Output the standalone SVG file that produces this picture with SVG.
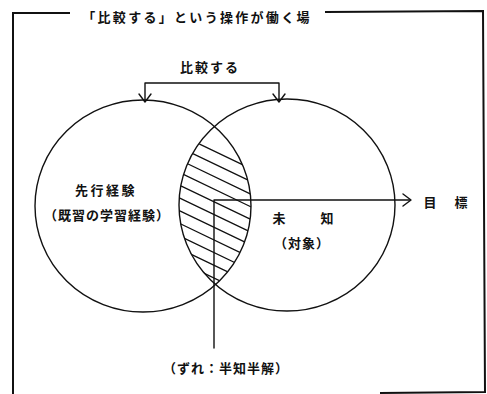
<svg xmlns="http://www.w3.org/2000/svg" width="487" height="394" viewBox="0 0 487 394">
<style>
.ln{fill:none;stroke:#111;stroke-width:1.4;stroke-linecap:round;stroke-linejoin:round}
.fr{fill:none;stroke:#111;stroke-width:2}
.ht{stroke:#111;stroke-width:1.3}
.t{font-family:"Noto Sans CJK JP","Noto Sans",sans-serif;font-weight:bold;font-size:13px;fill:#111;text-anchor:middle}
</style>
<defs>
<clipPath id="lens"><path d="M215,127 A108,106 0 0 1 215,285 A108,106 0 0 1 215,127 Z"/></clipPath>
</defs>
<rect width="487" height="394" fill="#fff"/>
<g id="frame">
<path class="fr" d="M70,13 L13,13 L13,394"/>
<path class="fr" d="M325,12 L483,11 L485,392 L380,393"/>
<text class="t" x="197" y="22" style="font-size:13px;letter-spacing:2.3px">「比較する」という操作が働く場</text>
</g>
<g id="left-circle">
<ellipse class="ln" cx="143" cy="206" rx="108" ry="106"/>
<text class="t" x="106" y="195" style="letter-spacing:2.5px">先行経験</text>
<text class="t" x="107" y="220" style="letter-spacing:1px">（既習の学習経験）</text>
</g>
<g id="right-circle">
<ellipse class="ln" cx="287" cy="205" rx="108" ry="106"/>
<text class="t" x="303" y="223"><tspan x="279">未</tspan><tspan x="327">知</tspan></text>
<text class="t" x="302" y="248" style="letter-spacing:1px">（対象）</text>
</g>
<g id="overlap">
<g clip-path="url(#lens)">
<path class="ht" d="M170,129.9 L260,173.1 M170,142.6 L260,185.8 M170,155.3 L260,198.5 M170,168 L260,211.2 M170,180.7 L260,223.9 M170,193.4 L260,236.6 M170,206.1 L260,249.3 M170,218.8 L260,262 M170,231.5 L260,274.7 M170,244.2 L260,287.4 M170,256.9 L260,300.1"/>
</g>
</g>
<g id="compare-label">
<text class="t" x="210" y="72" style="letter-spacing:2px">比較する</text>
</g>
<g id="goal-label">
<text class="t" x="445" y="207"><tspan x="430">目</tspan><tspan x="461">標</tspan></text>
</g>
<g id="gap-label">
<text class="t" x="226" y="373" style="letter-spacing:1px">（ずれ：半知半解）</text>
</g>
<g id="connectors">
<path class="ln" d="M145,101 L145,83 L279,83 L279,101"/>
<path class="ln" d="M139,94 L145,102 L151,94"/>
<path class="ln" d="M273,94 L279,102 L285,94"/>
<path class="ln" d="M214,348 L214,200 L410,200"/>
<path class="ln" d="M403,194 L411,200 L403,206"/>
</g>
</svg>
